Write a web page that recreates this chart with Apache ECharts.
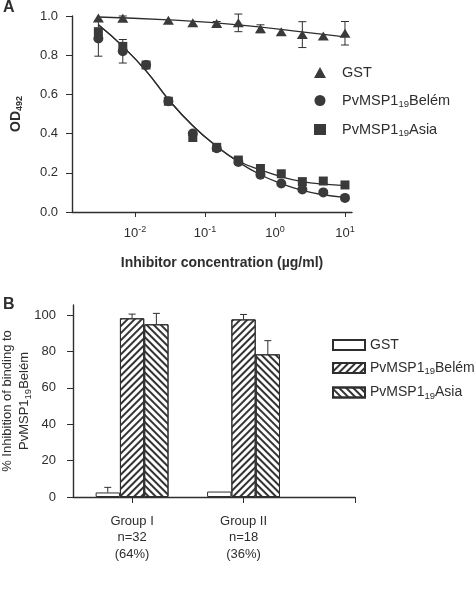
<!DOCTYPE html>
<html><head><meta charset="utf-8">
<script src="https://cdn.jsdelivr.net/npm/echarts@6/dist/echarts.min.js"></script>
<style>html,body{margin:0;padding:0;background:#fff}#c{width:476px;height:600px}</style>
</head><body><div id="c"></div>
<script>
// ---------- Panel A data ----------
const concX   = [0.003, 0.0067, 0.0144, 0.03, 0.067, 0.147, 0.3, 0.62, 1.23, 2.46, 4.9, 10];
const belemOD = [0.885, 0.82, 0.75, 0.565, 0.40, 0.325, 0.255, 0.19, 0.145, 0.115, 0.10, 0.072];
const belemErr= [0.09, 0.06, 0, 0, 0, 0, 0, 0, 0, 0, 0, 0];
const asiaOD  = [0.92, 0.845, 0.75, 0.565, 0.38, 0.33, 0.265, 0.222, 0.195, 0.155, 0.158, 0.138];
const gstX    = [0.003, 0.0067, 0.03, 0.067, 0.147, 0.3, 0.62, 1.23, 2.46, 4.9, 10];
const gstOD   = [0.99, 0.988, 0.978, 0.965, 0.962, 0.965, 0.935, 0.92, 0.905, 0.898, 0.912];
const gstErr  = [0, 0.012, 0, 0, 0.01, 0.045, 0.02, 0, 0.066, 0, 0.06];
// fitted curves
const gstFitX   = [0.003, 0.03, 0.3, 3, 10];
const gstFitY   = [0.995, 0.98, 0.955, 0.915, 0.893];
const belemFitY = [0.955, 0.845, 0.72, 0.575, 0.44, 0.335, 0.255, 0.19, 0.145, 0.11, 0.088, 0.075];
const asiaFitY  = [0.955, 0.845, 0.72, 0.575, 0.44, 0.335, 0.26, 0.215, 0.18, 0.155, 0.142, 0.135];
const xTickValues = [0.01, 0.1, 1, 10];

// ---------- Panel B data ----------
const groupPos    = [1, 2];
const groupLabels = ['Group I\nn=32\n(64%)', 'Group II\nn=18\n(36%)'];
const barGST   = [2.5, 3.0];
const errGST   = [2.8, 0];
const barBelem = [98.2, 97.6];
const errBelem = [2.3, 2.7];
const barAsia  = [94.9, 78.4];
const errAsia  = [6.0, 7.5];
const pctTicks = [0, 20, 40, 60, 80, 100];

const legendLabels = {gst: 'GST', belem: 'PvMSP1_19Belém', asia: 'PvMSP1_19Asia'};

// ---------- styling ----------
const INK = '#2e2e2e';
const FONT = 'Liberation Sans';
const subRich = {sub: {fontSize: 9.5, fontFamily: FONT, color: INK, padding: [7, 0, 0, 0]}};
const fmtName = n => legendLabels[n.split(':')[1]].replace('_19', '{sub|19}');

const zip = (xs, ys) => xs.map((x, i) => [x, ys[i]]);
const errData = (xs, ys, es) => xs.map((x, i) => [x, ys[i], es[i]]).filter(d => d[2] > 0);

function errA(params, api) {
  const x = api.value(0), y = api.value(1), e = api.value(2);
  const t = api.coord([x, y + e]), b = api.coord([x, y - e]);
  const c = 4, st = {stroke: INK, lineWidth: 1};
  return {type: 'group', children: [
    {type: 'line', shape: {x1: t[0], y1: t[1], x2: b[0], y2: b[1]}, style: st},
    {type: 'line', shape: {x1: t[0] - c, y1: t[1], x2: t[0] + c, y2: t[1]}, style: st},
    {type: 'line', shape: {x1: b[0] - c, y1: b[1], x2: b[0] + c, y2: b[1]}, style: st}
  ]};
}
const BW = 24.3;
function errB(offset) {
  return function (params, api) {
    const x = api.value(0), y = api.value(1), e = api.value(2);
    const t = api.coord([x, y + e]), b = api.coord([x, y]);
    const cx = t[0] + offset * BW, c = 3.5, st = {stroke: INK, lineWidth: 1};
    return {type: 'group', children: [
      {type: 'line', shape: {x1: cx, y1: t[1], x2: cx, y2: b[1]}, style: st},
      {type: 'line', shape: {x1: cx - c, y1: t[1], x2: cx + c, y2: t[1]}, style: st}
    ]};
  };
}
const hatch = rot => ({symbol: 'rect', symbolSize: 1, dashArrayX: [1, 0], dashArrayY: [1.2, 2.4], rotation: rot, color: '#333'});

const axisLine = {lineStyle: {color: INK, width: 1.4}};
const labelStyle = {color: INK, fontFamily: FONT, fontSize: 13};

const chart = echarts.init(document.getElementById('c'), null, {renderer: 'canvas'});
chart.setOption({
  backgroundColor: '#fff',
  animation: false,
  textStyle: {fontFamily: FONT},
  title: [
    {text: 'A', left: 3, top: 0, padding: 0, textStyle: {fontSize: 16, fontWeight: 'bold', color: INK, fontFamily: FONT}},
    {text: 'B', left: 3, top: 297, padding: 0, textStyle: {fontSize: 16, fontWeight: 'bold', color: INK, fontFamily: FONT}}
  ],
  grid: [
    {left: 72, top: 16, width: 280, height: 196, outerBoundsMode: 'none', containLabel: false},
    {left: 73, top: 305, width: 282, height: 192, outerBoundsMode: 'none', containLabel: false}
  ],
  legend: [
    {orient: 'vertical', left: 314, top: 65, padding: 0, itemWidth: 12, itemHeight: 11, itemGap: 13,
     formatter: fmtName, textStyle: {color: INK, fontFamily: FONT, fontSize: 14.5, rich: subRich, padding: [0, 0, 0, 11]},
     data: [{name: 'A:gst', icon: 'triangle'}, {name: 'A:belem', icon: 'circle'}, {name: 'A:asia', icon: 'rect'}]},
    {orient: 'vertical', left: 332, top: 338, padding: 0, itemWidth: 32, itemHeight: 10, itemGap: 9,
     formatter: fmtName, textStyle: {color: INK, fontFamily: FONT, fontSize: 14, rich: subRich},
     data: [{name: 'B:gst', icon: 'rect'}, {name: 'B:belem', icon: 'rect'}, {name: 'B:asia', icon: 'rect'}]}
  ],
  xAxis: [
    {type: 'log', gridIndex: 0, logBase: 10, min: 0.00126, max: 12.6,
     axisLine: axisLine, splitLine: {show: false}, minorTick: {show: false},
     axisTick: {length: 5, customValues: xTickValues, lineStyle: {color: INK}},
     axisLabel: Object.assign({}, labelStyle, {customValues: xTickValues, margin: 13,
       formatter: v => '10{sup|' + Math.round(Math.log10(v)) + '}',
       rich: {sup: {fontSize: 9, fontFamily: FONT, color: INK, padding: [0, 0, 8, 0]}}}),
     name: 'Inhibitor concentration (\u00b5g/ml)', nameLocation: 'middle', nameGap: 44,
     nameTextStyle: {color: INK, fontFamily: FONT, fontSize: 14, fontWeight: 'bold', padding: [0, 0, 0, 20]}},
    {type: 'value', gridIndex: 1, min: 0.47, max: 3,
     axisLine: axisLine, splitLine: {show: false},
     axisTick: {length: 6, customValues: [1, 2, 3], lineStyle: {color: INK}},
     axisLabel: Object.assign({}, labelStyle, {customValues: groupPos, margin: 16, lineHeight: 16.5,
       formatter: v => groupLabels[groupPos.indexOf(v)] || ''})}
  ],
  yAxis: [
    {type: 'value', gridIndex: 0, min: 0, max: 1, interval: 0.2,
     axisLine: Object.assign({show: true}, axisLine), splitLine: {show: false},
     axisTick: {show: true, length: 6, lineStyle: {color: INK}},
     axisLabel: Object.assign({}, labelStyle, {margin: 14, formatter: v => v.toFixed(1)}),
     name: 'OD{sub|492}', nameLocation: 'middle', nameRotate: 90, nameGap: 48,
     nameTextStyle: {color: INK, fontFamily: FONT, fontSize: 14, fontWeight: 'bold',
       rich: {sub: {fontSize: 9, fontWeight: 'bold', fontFamily: FONT, color: INK, padding: [7, 0, 0, 0]}}}},
    {type: 'value', gridIndex: 1, min: 0, max: 105.5,
     axisLine: Object.assign({show: true}, axisLine), splitLine: {show: false},
     axisTick: {show: true, length: 6, customValues: pctTicks, lineStyle: {color: INK}},
     axisLabel: Object.assign({}, labelStyle, {margin: 17, customValues: pctTicks}),
     name: '% Inhibition of binding to\nPvMSP1{sub|19}Belém', nameLocation: 'middle', nameRotate: 90, nameGap: 40,
     nameMoveOverlap: false,
     nameTextStyle: {color: INK, fontFamily: FONT, fontSize: 13, lineHeight: 17, rich: subRich}}
  ],
  series: [
    // ---- panel A ----
    {type: 'custom', name: 'errA1', xAxisIndex: 0, yAxisIndex: 0, renderItem: errA, data: errData(gstX, gstOD, gstErr), z: 1},
    {type: 'custom', name: 'errA2', xAxisIndex: 0, yAxisIndex: 0, renderItem: errA, data: errData(concX, belemOD, belemErr), z: 1},
    {type: 'line', name: 'fitGST', xAxisIndex: 0, yAxisIndex: 0, data: zip(gstFitX, gstFitY), smooth: true, showSymbol: false,
     lineStyle: {color: INK, width: 1.3}, z: 2},
    {type: 'line', name: 'fitBelem', xAxisIndex: 0, yAxisIndex: 0, data: zip(concX, belemFitY), smooth: true, showSymbol: false,
     lineStyle: {color: INK, width: 1.3}, z: 2},
    {type: 'line', name: 'fitAsia', xAxisIndex: 0, yAxisIndex: 0, data: zip(concX, asiaFitY), smooth: true, showSymbol: false,
     lineStyle: {color: INK, width: 1.3}, z: 2},
    {type: 'scatter', name: 'A:asia', xAxisIndex: 0, yAxisIndex: 0, data: zip(concX, asiaOD), symbol: 'rect', symbolSize: 9,
     itemStyle: {color: '#3a3a3a', opacity: 1}, z: 3},
    {type: 'scatter', name: 'A:belem', xAxisIndex: 0, yAxisIndex: 0, data: zip(concX, belemOD), symbol: 'circle', symbolSize: 10,
     itemStyle: {color: '#3a3a3a', opacity: 1}, z: 4},
    {type: 'scatter', name: 'A:gst', xAxisIndex: 0, yAxisIndex: 0, data: zip(gstX, gstOD), symbol: 'triangle', symbolSize: [11, 9],
     itemStyle: {color: '#3a3a3a', opacity: 1}, z: 4},
    // ---- panel B ----
    {type: 'bar', name: 'B:gst', xAxisIndex: 1, yAxisIndex: 1, data: zip(groupPos, barGST), barWidth: BW, barGap: '0%',
     itemStyle: {color: '#fff', borderColor: INK, borderWidth: 1}},
    {type: 'bar', name: 'B:belem', xAxisIndex: 1, yAxisIndex: 1, data: zip(groupPos, barBelem), barWidth: BW, barGap: '0%',
     itemStyle: {color: '#fff', borderColor: INK, borderWidth: 1, decal: hatch(-Math.PI / 4)}},
    {type: 'bar', name: 'B:asia', xAxisIndex: 1, yAxisIndex: 1, data: zip(groupPos, barAsia), barWidth: BW, barGap: '0%',
     itemStyle: {color: '#fff', borderColor: INK, borderWidth: 1, decal: hatch(Math.PI / 4)}},
    {type: 'custom', name: 'errB1', xAxisIndex: 1, yAxisIndex: 1, renderItem: errB(-1), data: errData(groupPos, barGST, errGST), z: 5},
    {type: 'custom', name: 'errB2', xAxisIndex: 1, yAxisIndex: 1, renderItem: errB(0), data: errData(groupPos, barBelem, errBelem), z: 5},
    {type: 'custom', name: 'errB3', xAxisIndex: 1, yAxisIndex: 1, renderItem: errB(1), data: errData(groupPos, barAsia, errAsia), z: 5}
  ]
});
</script></body></html>
